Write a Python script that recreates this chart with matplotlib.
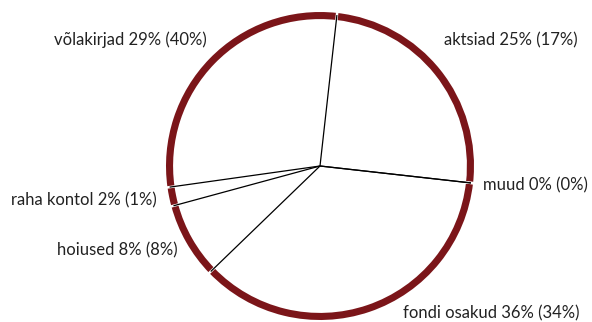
import numpy as np
import matplotlib
matplotlib.use("Agg")
import matplotlib.pyplot as plt

# ---- data ----
categories = ["aktsiad", "muud", "fondi osakud", "hoiused", "raha kontol", "võlakirjad"]
shares = [25, 0, 36, 8, 2, 29]          # current %
prev_shares = [17, 0, 34, 8, 1, 40]     # value in parentheses %
labels = [f"{c} {s}% ({p}%)" for c, s, p in zip(categories, shares, prev_shares)]

# ---- layout (label anchors in data units, radius = 1) ----
label_pos = [(0.805, 0.818), (1.058, -0.123), (0.539, -0.955),
             (-0.922, -0.545), (-1.058, -0.221), (-0.734, 0.818)]
label_ha = ["left", "left", "left", "right", "right", "right"]

RED = "#7B1519"
start = 83.6
ring_w = 0.046

fig = plt.figure(figsize=(5.92, 3.22), dpi=100)
ax = fig.add_axes([0, 0, 1, 1])

ax.pie(shares, radius=1.0, colors=[RED] * len(shares), startangle=start,
       counterclock=False,
       wedgeprops=dict(width=ring_w, linewidth=0))
ax.set_xlim(-320 / 154, 272 / 154)
ax.set_ylim(-156 / 154, 166 / 154)
ax.set_aspect("equal")
ax.axis("off")

total = float(sum(shares))
cum = np.concatenate([[0], np.cumsum(shares)])
for c in cum[:-1]:
    a = np.deg2rad(start - 360.0 * c / total)
    ca, sa = np.cos(a), np.sin(a)
    # white gap in the ring
    ax.plot([(1 - ring_w - 0.01) * ca, 1.02 * ca], [(1 - ring_w - 0.01) * sa, 1.02 * sa],
            color="white", lw=1.8, solid_capstyle="butt", zorder=3)
    r = 1.0 - ring_w * 0.3
    ax.plot([0, r * ca], [0, r * sa], color="black", lw=0.9,
            solid_capstyle="butt", zorder=4)

for lab, (x, y), ha in zip(labels, label_pos, label_ha):
    ax.text(x, y, lab, ha=ha, va="center", fontsize=12, family="Lato",
            color="#222222")

fig.savefig("out.png", dpi=100)
